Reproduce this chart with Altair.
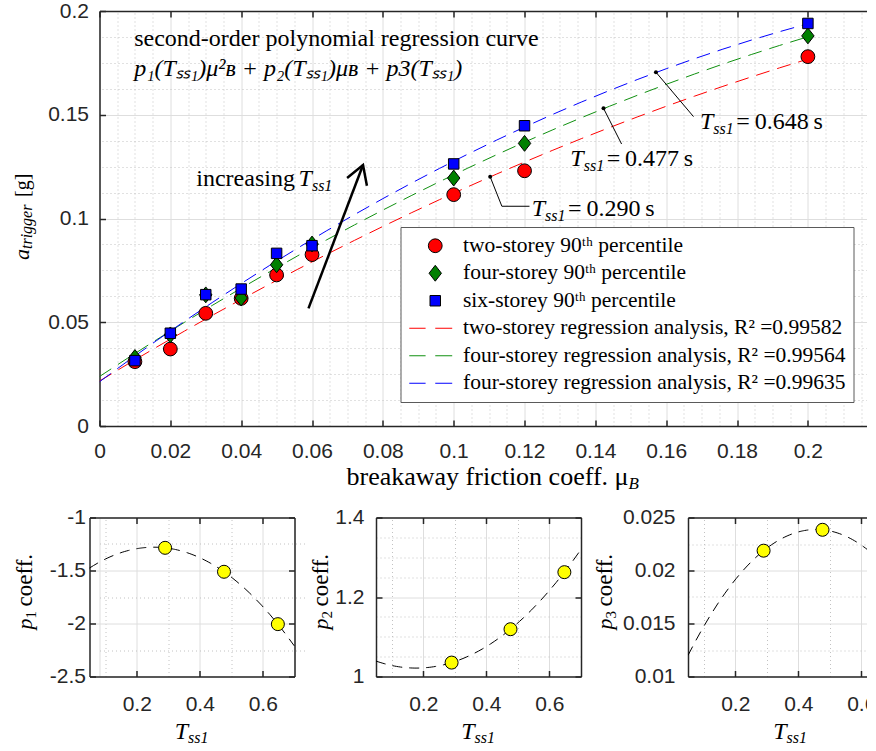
import altair as alt
import pandas as pd

SERIF = "Liberation Serif"
SANS = "Liberation Sans"
INK = "#262626"

# ---------------- main panel data ----------------
mu_B = [0.01, 0.02, 0.03, 0.04, 0.05, 0.06, 0.10, 0.12, 0.20]
a_two = [0.0310, 0.0371, 0.0543, 0.0615, 0.0728, 0.0826, 0.1115, 0.1230, 0.1780]
a_four = [0.0330, 0.0439, 0.0632, 0.0617, 0.0777, 0.0877, 0.1195, 0.1362, 0.1880]
a_six = [0.0315, 0.0447, 0.0633, 0.0660, 0.0832, 0.0869, 0.1263, 0.1447, 0.1940]

pt_names = ["two-storey 90\u1d57\u02b0 percentile",
            "four-storey 90\u1d57\u02b0 percentile",
            "six-storey 90\u1d57\u02b0 percentile"]
ln_names = ["two-storey regression analysis, R\u00b2 =0.99582",
            "four-storey regression analysis, R\u00b2 =0.99564",
            "four-storey regression analysis, R\u00b2 =0.99635"]
point_colors = ["#ff0000", "#008000", "#0000ff"]
line_colors = ["#ff0000", "#109010", "#0000ff"]

# ---------------- coefficient panels ----------------
T_ss1 = [0.290, 0.477, 0.648]
p1_vals = [-1.286, -1.512, -2.006]
p2_vals = [1.035, 1.119, 1.2625]
p3_vals = [0.02187, 0.02384, 0.02125]

# ---------------- ticks ----------------
x_ticks_main = [0, 0.02, 0.04, 0.06, 0.08, 0.1, 0.12, 0.14, 0.16, 0.18, 0.2]
x_minor_main = [round(i * 0.005, 4) for i in range(1, 44) if i % 4]
y_ticks_main = [0, 0.05, 0.1, 0.15, 0.2]
y_minor_main = [round(i * 0.0125, 5) for i in range(1, 16) if i % 4]
x_ticks_p = [0.2, 0.4, 0.6]
x_minor_p = [0.1, 0.3, 0.5]
y_ticks_p1 = [-2.5, -2, -1.5, -1]
y_minor_p1 = [-2.25, -1.75, -1.25]
y_ticks_p2 = [1, 1.2, 1.4]
y_minor_p2 = [1.05, 1.1, 1.15, 1.25, 1.3, 1.35]
y_ticks_p3 = [0.01, 0.015, 0.02, 0.025]
y_minor_p3 = [0.0125, 0.0175, 0.0225]

# ---------------- annotations (data coordinates) ----------------
leader_x = [0.1103, 0.1136, 0.1214, 0.1423, 0.1474, 0.1571, 0.1677]
leader_y = [0.1201, 0.1059, 0.1059, 0.1531, 0.1359, 0.1705, 0.1491]
leader_g = [1, 1, 1, 2, 2, 3, 3]
dot_x = [0.1103, 0.1423, 0.1571]
dot_y = [0.1201, 0.1531, 0.1705]
arrow_x = [0.0590, 0.0744, 0.0699, 0.0744, 0.0755]
arrow_y = [0.0567, 0.1258, 0.1195, 0.1258, 0.1158]
arrow_g = [1, 1, 2, 2, 2]
ann_vals = ["0.290", "0.477", "0.648"]
ann_x = [0.1258, 0.1367, 0.1733]
ann_y = [0.1013, 0.1254, 0.1431]

LABEL_SIZE = 21


def label_axis(orient, values, pad, edge_test, offset=0):
    return alt.Axis(orient=orient, values=values, format="~g",
                    labelExpr="replace(datum.label, '\u2212', '-')",
                    labelFont=SANS, labelFontSize=LABEL_SIZE, labelColor=INK,
                    labelPadding=pad, labelFlush=False, labelOverlap=False,
                    ticks=False, tickSize=0, domain=True, domainColor=INK,
                    domainWidth=1.5, grid=True, gridColor="#dedede", gridWidth=1,
                    gridOpacity={"condition": {"test": edge_test, "value": 0}, "value": 1},
                    offset=offset, title=None)


def minor_axis(orient, values, border=True):
    return alt.Axis(orient=orient, values=values, labels=False, ticks=False,
                    domain=border, domainColor=INK, domainWidth=1.5,
                    grid=True, gridColor="#c2c2c2", gridDash=[1, 3], gridWidth=1,
                    title=None)


def tick_axis(orient, values, offset=-6):
    return alt.Axis(orient=orient, values=values, labels=False, ticks=True,
                    tickSize=6, tickColor=INK, tickWidth=1.5, domain=False,
                    grid=False, offset=offset, title=None)


def dtext(sx, sy, x, y, s, size, style="normal", align="left", dx=0, dy=0):
    return alt.Chart(pd.DataFrame({"x": [x], "y": [y]})).mark_text(
        text=s, font=SERIF, fontSize=size, fontStyle=style, align=align,
        baseline="alphabetic", dx=dx, dy=dy, color="black"
    ).encode(x=alt.X("x:Q", scale=sx, axis=None), y=alt.Y("y:Q", scale=sy, axis=None))


def ptext(px, py, s, size, style="normal", align="left", dx=0, dy=0, angle=0):
    return alt.Chart(pd.DataFrame({"t": [s]})).mark_text(
        text=s, font=SERIF, fontSize=size, fontStyle=style, align=align,
        baseline="alphabetic", dx=dx, dy=dy, angle=angle, color="black"
    ).encode(x=alt.value(px), y=alt.value(py))


# ---------------- main chart ----------------
MAIN_W = 775.5
SXm = alt.Scale(domain=[0, MAIN_W / 3542.0], nice=False, zero=False)
SYm = alt.Scale(domain=[0, 0.2], nice=False, zero=False)

rows = []
for name, ln, vals in zip(pt_names, ln_names, [a_two, a_four, a_six]):
    for m, v in zip(mu_B, vals):
        rows.append({"mu": m, "a": v, "series": name, "ln": ln})
df_pts = pd.DataFrame(rows)

domain6 = pt_names + ln_names
line_path = "M-3.77,0H-1.4M0,0H2.46"
fill_scale = alt.Scale(domain=domain6, range=point_colors + ["transparent"] * 3)
stroke_scale = alt.Scale(domain=domain6, range=["#000000"] * 3 + line_colors)
shape_scale = alt.Scale(domain=domain6, range=[
    "circle", "M0,-1.15L0.9,0L0,1.15L-0.9,0Z", "M-0.76,-0.76H0.76V0.76H-0.76Z",
    line_path, line_path, line_path])

LEG = alt.Legend(title=None, orient="none", legendX=301, legendY=216,
                 fillColor="white", strokeColor="#5a5a5a", padding=8,
                 labelFont=SERIF, labelFontSize=21.5, labelColor="black",
                 labelLimit=700, labelOffset=17, symbolOffset=16,
                 symbolSize=190, symbolStrokeWidth=1, rowPadding=4.5,
                 direction="vertical")

lines = alt.Chart(df_pts).transform_regression(
    "mu", "a", groupby=["ln"], method="poly", order=2, extent=[0, 0.2]
).transform_calculate(series="datum.ln").mark_line(
    strokeDash=[14, 8], strokeWidth=1, clip=True
).encode(
    x=alt.X("mu:Q", scale=SXm, axis=minor_axis("top", x_minor_main)),
    y=alt.Y("a:Q", scale=SYm, axis=minor_axis("right", y_minor_main, border=False)),
    stroke=alt.Stroke("series:N", scale=stroke_scale, legend=LEG),
)

pts = alt.Chart(df_pts).mark_point(filled=True, size=190, strokeWidth=1, opacity=1).encode(
    x=alt.X("mu:Q", scale=SXm, axis=label_axis("bottom", x_ticks_main, 14, "datum.value == 0")),
    y=alt.Y("a:Q", scale=SYm, axis=label_axis("left", y_ticks_main, 11,
                                              "datum.value == 0 || datum.value == 0.2")),
    fill=alt.Fill("series:N", scale=fill_scale, legend=LEG),
    stroke=alt.Stroke("series:N", scale=stroke_scale, legend=LEG),
    shape=alt.Shape("series:N", scale=shape_scale, legend=LEG),
)

df_lead = pd.DataFrame({"x": leader_x, "y": leader_y, "g": leader_g,
                        "o": list(range(len(leader_x)))})
lead = alt.Chart(df_lead).mark_line(color="black", strokeWidth=1).encode(
    x=alt.X("x:Q", scale=SXm, axis=tick_axis("bottom", x_ticks_main)),
    y=alt.Y("y:Q", scale=SYm, axis=tick_axis("left", y_ticks_main)),
    detail="g:N", order="o:Q")

df_arrow = pd.DataFrame({"x": arrow_x, "y": arrow_y, "g": arrow_g,
                         "o": list(range(len(arrow_x)))})
arrow = alt.Chart(df_arrow).mark_line(color="black", strokeWidth=2.5).encode(
    x=alt.X("x:Q", scale=SXm, axis=tick_axis("top", x_ticks_main)),
    y=alt.Y("y:Q", scale=SYm, axis=tick_axis("right", y_ticks_main)),
    detail="g:N", order="o:Q")

dots = alt.Chart(pd.DataFrame({"x": dot_x, "y": dot_y})).mark_circle(
    size=16, color="black", opacity=1).encode(
    x=alt.X("x:Q", scale=SXm, axis=None), y=alt.Y("y:Q", scale=SYm, axis=None))

main_texts = [
    dtext(SXm, SYm, 0.0098, 0.1833, "second-order polynomial regression curve", 24),
    dtext(SXm, SYm, 0.0098, 0.1688,
          "p\u2081(T\u209b\u209b\u2081)\u03bc\u00b2\u0299 + p\u2082(T\u209b\u209b\u2081)\u03bc\u0299 + p3(T\u209b\u209b\u2081)",
          24, "italic"),
    dtext(SXm, SYm, 0.05997, 0.1158, "increasing", 24, align="right", dx=-17),
    dtext(SXm, SYm, 0.05997, 0.1158, "T", 24, "italic", align="right"),
    dtext(SXm, SYm, 0.05997, 0.1158, "ss1", 16, "italic", dy=5),
]
for v, ax, ay in zip(ann_vals, ann_x, ann_y):
    main_texts += [
        dtext(SXm, SYm, ax, ay, "T", 24, "italic", align="right"),
        dtext(SXm, SYm, ax, ay, "ss1", 16, "italic", dy=5),
        dtext(SXm, SYm, ax, ay, "=\u2009" + v + "\u2009s", 24, dx=23),
    ]
# axis titles
main_texts += [
    ptext(-70.5, 238, "a", 22, "italic", align="right", angle=270),
    ptext(-70.5, 238, "trigger", 16, "italic", dy=3, angle=270),
    ptext(-70.5, 238, "[g]", 20, dx=52, angle=270),
    ptext(529, 474, "breakaway friction coeff. \u03bc", 26, align="right"),
    ptext(529, 474, "B", 17, "italic", dy=4),
]

main = alt.layer(lines, pts, lead, arrow, dots, *main_texts).resolve_axis(
    x="independent", y="independent").properties(width=MAIN_W, height=415)


# ---------------- coefficient panels ----------------
def small_panel(vals, y_dom, yt, ym, ypad, sub, ytitle_x, width=205,
                right_border=True, shift=0):
    # shift: pixels by which the panel's plot area starts left of the view origin
    df = pd.DataFrame({"T": T_ss1, "p": vals})
    view_w = width - shift
    x_max = min(0.7, 0.05 + width / 315.0)
    SX = alt.Scale(domain=[0.05, 0.05 + width / 315.0], range=[-shift, view_w],
                   nice=False, zero=False)
    SY = alt.Scale(domain=y_dom, nice=False, zero=False)
    edge = "datum.value == %r || datum.value == %r" % (y_dom[0], y_dom[1])
    curve = alt.Chart(df).transform_regression(
        "T", "p", method="poly", order=2, extent=[0.05, x_max]
    ).mark_line(color="black", strokeWidth=1, strokeDash=[10, 7],
                clip=(shift == 0)).encode(
        x=alt.X("T:Q", scale=SX, axis=minor_axis("top", x_minor_p)),
        y=alt.Y("p:Q", scale=SY, axis=minor_axis("right", ym, border=right_border)))
    points = alt.Chart(df).mark_point(
        filled=True, shape="circle", size=169, fill="#ffff00", stroke="black",
        strokeWidth=1, opacity=1, clip=True
    ).encode(
        x=alt.X("T:Q", scale=SX, axis=label_axis("bottom", x_ticks_p, 17, "false")),
        y=alt.Y("p:Q", scale=SY, axis=label_axis("left", yt, ypad, edge, offset=shift)))
    inv1 = alt.Chart(df).mark_point(opacity=0, clip=True).encode(
        x=alt.X("T:Q", scale=SX, axis=tick_axis("bottom", x_ticks_p)),
        y=alt.Y("p:Q", scale=SY, axis=tick_axis("left", yt, offset=-6 + shift)))
    inv2 = alt.Chart(df).mark_point(opacity=0, clip=True).encode(
        x=alt.X("T:Q", scale=SX, axis=tick_axis("top", x_ticks_p)),
        y=alt.Y("p:Q", scale=SY, axis=tick_axis("right", yt) if right_border else None))
    tx = ytitle_x - shift
    titles = [
        ptext(tx, 101, "p", 22, "italic", align="right", angle=270),
        ptext(tx, 101, sub, 15, dy=4, angle=270),
        ptext(tx, 101, "coeff.", 23, dx=12, angle=270),
        ptext(98.5 - shift, 221, "T", 24, "italic", align="right"),
        ptext(98.5 - shift, 221, "ss1", 16, "italic", dy=4),
    ]
    return alt.layer(curve, points, inv1, inv2, *titles).resolve_axis(
        x="independent", y="independent").properties(width=view_w, height=159)


P1 = small_panel(p1_vals, [-2.5, -1], y_ticks_p1, y_minor_p1, 4, "1", -57.5, shift=10)
P2 = small_panel(p2_vals, [1, 1.4], y_ticks_p2, y_minor_p2, 12, "2", -48)
P3 = small_panel(p3_vals, [0.01, 0.025], y_ticks_p3, y_minor_p3, 13, "3", -76,
                 width=185, right_border=False)

row = alt.hconcat(alt.hconcat(P1, P2, spacing=3.5), P3, spacing=10.5)

chart = alt.concat(main, row, columns=1, spacing=12.5, align="none").properties(
    padding={"left": 10.5, "top": -1, "right": -9.5, "bottom": 0}
).configure_view(stroke=None).configure(font=SERIF)

chart.save("out.html", embed_options={"renderer": "svg", "actions": False})
